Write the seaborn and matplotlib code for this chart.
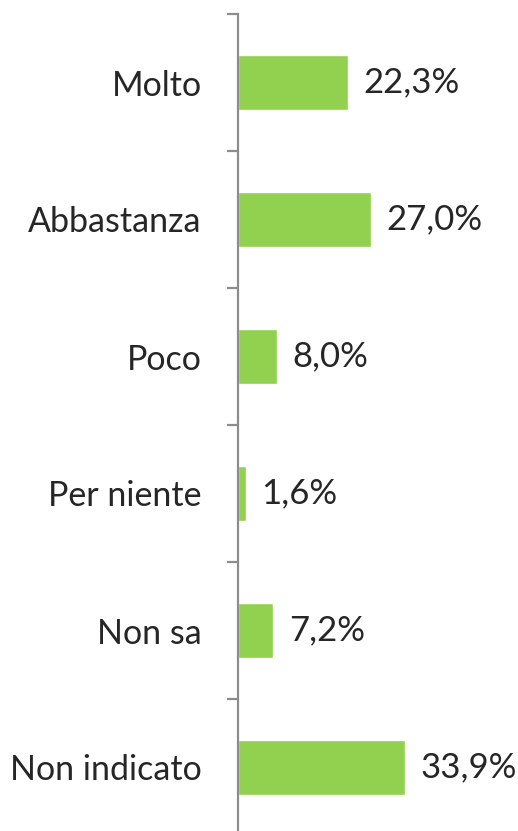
import matplotlib
matplotlib.use("Agg")
import matplotlib.pyplot as plt
import seaborn as sns
import pandas as pd
import numpy as np

categories = ["Molto", "Abbastanza", "Poco", "Per niente", "Non sa", "Non indicato"]
values = [22.3, 27.0, 8.0, 1.6, 7.2, 33.9]
value_labels = ["22,3%", "27,0%", "8,0%", "1,6%", "7,2%", "33,9%"]

sns.set_style("white")
plt.rcParams["font.family"] = ["Lato", "DejaVu Sans"]

df = pd.DataFrame({"categoria": categories, "valore": values})

fig = plt.figure(figsize=(5.18, 8.31), dpi=100)
ax = fig.add_axes([238 / 518, 1 - 836 / 831, 197 / 518, 822 / 831])

sns.barplot(data=df, y="categoria", x="valore", orient="h", color="#92D050",
            width=0.4, saturation=1, ax=ax)

ax.set_xlim(0, 40)
ax.set_ylim(len(categories) - 0.5, -0.5)
ax.set_xlabel("")
ax.set_ylabel("")
ax.set_xticks([])

for s in ["top", "right", "bottom"]:
    ax.spines[s].set_visible(False)
ax.spines["left"].set_color("#8c8c8c")
ax.spines["left"].set_linewidth(1.6)

ax.set_yticks(np.arange(len(categories)))
ax.set_yticklabels(categories, fontsize=24.5)
ax.tick_params(axis="y", which="major", length=0, pad=26)
ax.set_yticks(np.arange(len(categories) + 1) - 0.5, minor=True)
ax.tick_params(axis="y", which="minor", length=8, width=1.6, color="#8c8c8c", left=True)

for i, (v, lab) in enumerate(zip(values, value_labels)):
    ax.annotate(lab, xy=(v, i), xytext=(11, 0), textcoords="offset points",
                va="center", ha="left", fontsize=25, annotation_clip=False)

fig.savefig("out.png", dpi=100)
